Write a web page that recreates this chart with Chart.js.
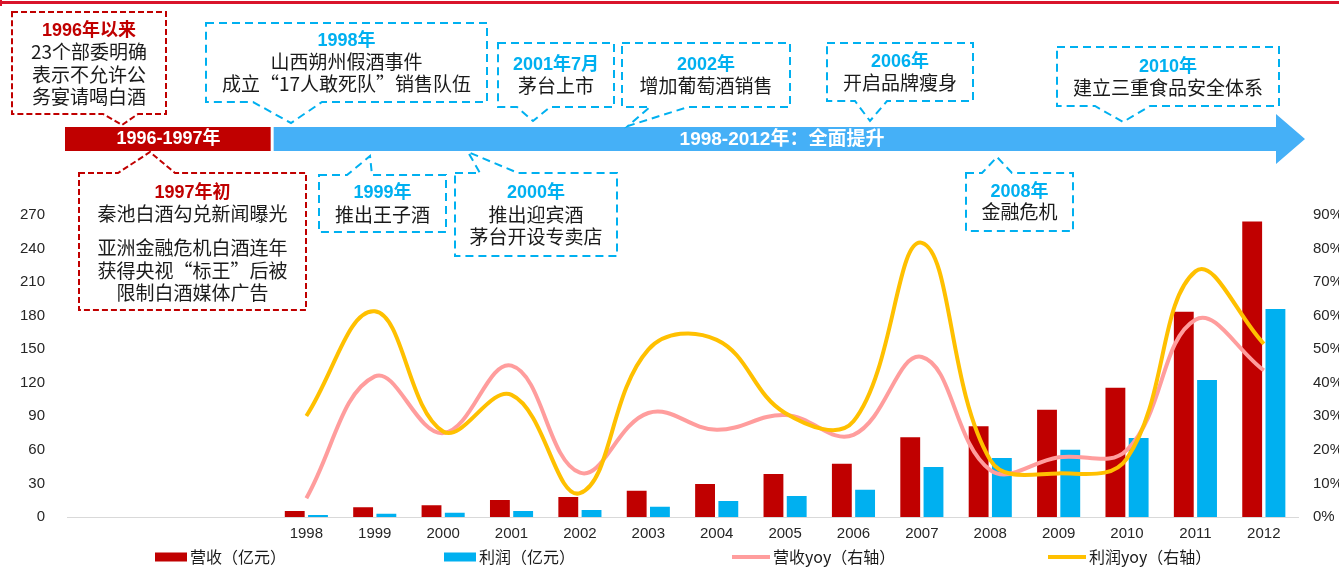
<!DOCTYPE html>
<html>
<head>
<meta charset="utf-8">
<script src="https://cdn.jsdelivr.net/npm/chart.js@4.4.1/dist/chart.umd.min.js"></script>
<style>
  html, body { margin: 0; padding: 0; background: #fff; }
  #wrap { width: 1339px; height: 569px; position: relative; }
</style>
</head>
<body>
<div id="wrap"><canvas id="chart" width="1339" height="569"></canvas></div>
<script>
// 数据（前三个空类目对应 1996-1997 阶段）
const years = ['', '', '', '1998', '1999', '2000', '2001', '2002', '2003', '2004', '2005', '2006', '2007', '2008', '2009', '2010', '2011', '2012'];
const revenue = [null, null, null, 6.3, 9.6, 11.4, 16.1, 18.8, 24.4, 30.4, 39.4, 48.6, 72.2, 82.1, 96.7, 116.4, 184.4, 265];
const profit = [null, null, null, 2.7, 3.8, 4.7, 6.3, 7.2, 10.1, 15.2, 19.7, 25.3, 45.7, 53.7, 61.1, 71.6, 123.3, 186.8];
const revenueYoy = [null, null, null, 5.6, 41.9, 25, 45.1, 13.2, 31, 26, 30.4, 24.5, 47.7, 14, 17.8, 20, 58.8, 43.7];
const profitYoy = [null, null, null, 30.1, 61.3, 25.5, 36.4, 7.1, 49.9, 52.8, 31, 28.5, 81.7, 17, 13, 17.5, 73.2, 51.6];
const leftMax = 270, leftStep = 30;
const rightMax = 90, rightStep = 10;

const seriesNames = ['营收（亿元）', '利润（亿元）', '营收yoy（右轴）', '利润yoy（右轴）'];
const stageNames = ['1996-1997年', '1998-2012年：全面提升'];

// 注释框文字
const noteTitles = ['1996年以来', '1997年初', '1998年', '1999年', '2000年', '2001年7月', '2002年', '2006年', '2010年', '2008年'];
const noteLines = [
  ['23个部委明确', '表示不允许公', '务宴请喝白酒'],
  ['秦池白酒勾兑新闻曝光', '', '亚洲金融危机白酒连年', '获得央视“标王”后被', '限制白酒媒体广告'],
  ['山西朔州假酒事件', '成立“17人敢死队”销售队伍'],
  ['推出王子酒'],
  ['推出迎宾酒', '茅台开设专卖店'],
  ['茅台上市'],
  ['增加葡萄酒销售'],
  ['开启品牌瘦身'],
  ['建立三重食品安全体系'],
  ['金融危机']
];

const RED = '#c00000', BLUE = '#00b0f0', PINK = '#ff9d9d', ORANGE = '#ffc000';
const CJK = "'Noto Sans CJK SC', sans-serif";

// 注释框布局：矩形 [左, 上, 右, 下]，指针 [基点1x, 基点2x, 顶点x, 顶点y]，颜色，首行 y，各行 y
const noteLayout = [
  { box: [12, 12, 166, 114], ptr: [103, 138, 122, 125], color: RED, y0: 31, ys: [52, 75, 97] },
  { box: [79, 173, 306, 310], ptr: [118, 175, 150, 152], color: RED, y0: 193, ys: [214, 231, 248, 271, 293] },
  { box: [206, 23, 487, 102], ptr: [253, 322, 291, 123], color: BLUE, y0: 41, ys: [62, 84] },
  { box: [319, 175, 446, 232], ptr: [347, 372, 370, 156], color: BLUE, y0: 193, ys: [215] },
  { box: [455, 173, 617, 256], ptr: [480, 518, 468, 152], color: BLUE, y0: 193, ys: [215, 237] },
  { box: [498, 43, 614, 107], ptr: [517, 550, 533, 121], color: BLUE, y0: 65, ys: [86] },
  { box: [622, 43, 790, 107], ptr: [650, 688, 628, 126], color: BLUE, y0: 65, ys: [86] },
  { box: [827, 43, 973, 101], ptr: [855, 887, 870, 121], color: BLUE, y0: 62, ys: [83] },
  { box: [1057, 47, 1279, 106], ptr: [1095, 1150, 1123, 122], color: BLUE, y0: 67, ys: [88] },
  { box: [966, 173, 1073, 231], ptr: [982, 1012, 997, 157], color: BLUE, y0: 192, ys: [212] }
];

function drawNote(ctx, i) {
  const L = noteLayout[i];
  const [l, t, r, b] = L.box;
  const [p1, p2, ax, ay] = L.ptr;
  ctx.save();
  ctx.beginPath();
  if (ay > b) { // 指针向下
    ctx.moveTo(l, t); ctx.lineTo(r, t); ctx.lineTo(r, b);
    ctx.lineTo(p2, b); ctx.lineTo(ax, ay); ctx.lineTo(p1, b);
    ctx.lineTo(l, b); ctx.closePath();
  } else { // 指针向上
    ctx.moveTo(l, t); ctx.lineTo(p1, t); ctx.lineTo(ax, ay); ctx.lineTo(p2, t);
    ctx.lineTo(r, t); ctx.lineTo(r, b); ctx.lineTo(l, b); ctx.closePath();
  }
  ctx.fillStyle = '#fff';
  ctx.fill();
  ctx.setLineDash(L.color === RED ? [6, 3] : [8, 5]);
  ctx.lineWidth = 2;
  ctx.strokeStyle = L.color;
  ctx.stroke();
  ctx.setLineDash([]);
  const cx = (l + r) / 2;
  ctx.textAlign = 'center';
  ctx.textBaseline = 'middle';
  ctx.fillStyle = L.color;
  ctx.font = "bold 18px 'Liberation Sans', " + CJK;
  ctx.fillText(noteTitles[i], cx, L.y0);
  ctx.fillStyle = '#1a1a1a';
  ctx.font = '19px ' + CJK;
  noteLines[i].forEach((s, k) => { if (s) ctx.fillText(s, cx, L.ys[k]); });
  ctx.restore();
}

// 时间轴横幅 + 注释 + 图例
const timelinePlugin = {
  id: 'timeline',
  beforeDraw(chart) {
    const ctx = chart.ctx;
    ctx.save();
    ctx.fillStyle = '#fff';
    ctx.fillRect(0, 0, chart.width, chart.height);
    ctx.fillStyle = '#d9142b';
    ctx.fillRect(0, 1, chart.width, 3);
    ctx.fillRect(0, 0, 2, 6);
    ctx.restore();
  },
  afterDraw(chart) {
    const ctx = chart.ctx;
    const xs = chart.scales.x;
    const area = chart.chartArea;
    const split = (xs.getPixelForValue(2) + xs.getPixelForValue(3)) / 2;
    const top = 127, bot = 151;
    ctx.save();
    // 红色阶段
    ctx.fillStyle = RED;
    ctx.fillRect(area.left - 2, top, split - 1.5 - (area.left - 2), bot - top);
    // 蓝色箭头
    const headBase = area.right - 22, tip = area.right + 7;
    ctx.fillStyle = '#45b0f7';
    ctx.beginPath();
    ctx.moveTo(split + 1.5, top);
    ctx.lineTo(headBase, top);
    ctx.lineTo(headBase, 114);
    ctx.lineTo(tip, (top + bot) / 2);
    ctx.lineTo(headBase, 164);
    ctx.lineTo(headBase, bot);
    ctx.lineTo(split + 1.5, bot);
    ctx.closePath();
    ctx.fill();
    ctx.fillStyle = '#fff';
    ctx.textAlign = 'center';
    ctx.textBaseline = 'middle';
    ctx.font = "bold 18px 'Liberation Sans', " + CJK;
    ctx.fillText(stageNames[0], (area.left - 2 + split) / 2, 139);
    ctx.font = "bold 19px 'Liberation Sans', " + CJK;
    ctx.fillText(stageNames[1], 782, 140);
    ctx.restore();

    noteLayout.forEach((_, i) => drawNote(ctx, i));

    // 图例
    const legendX = [155, 444, 732, 1048];
    const ly = 557;
    const colors = [RED, BLUE, PINK, ORANGE];
    ctx.save();
    ctx.font = '16px ' + CJK;
    ctx.textBaseline = 'middle';
    ctx.textAlign = 'left';
    seriesNames.forEach((name, i) => {
      const x = legendX[i];
      let w;
      if (i < 2) {
        w = 32;
        ctx.fillStyle = colors[i];
        ctx.fillRect(x, ly - 4.5, w, 9);
      } else {
        w = 38;
        ctx.strokeStyle = colors[i];
        ctx.lineWidth = 4;
        ctx.beginPath();
        ctx.moveTo(x, ly);
        ctx.lineTo(x + w, ly);
        ctx.stroke();
      }
      ctx.fillStyle = '#1a1a1a';
      ctx.fillText(name, x + w + 3, ly);
    });
    ctx.restore();
  }
};

Chart.defaults.font.family = "'Liberation Sans', " + CJK;
Chart.defaults.color = '#262626';

new Chart(document.getElementById('chart'), {
  data: {
    labels: years,
    datasets: [
      { type: 'line', label: seriesNames[3], data: profitYoy, yAxisID: 'y1', borderColor: ORANGE, borderWidth: 4, pointRadius: 0, tension: 0.4, order: 0 },
      { type: 'line', label: seriesNames[2], data: revenueYoy, yAxisID: 'y1', borderColor: PINK, borderWidth: 4, pointRadius: 0, tension: 0.4, order: 1 },
      { type: 'bar', label: seriesNames[0], data: revenue, yAxisID: 'y', backgroundColor: RED, borderColor: 'rgba(255,255,255,0.7)', borderWidth: 1, order: 2 },
      { type: 'bar', label: seriesNames[1], data: profit, yAxisID: 'y', backgroundColor: BLUE, borderColor: 'rgba(255,255,255,0.7)', borderWidth: 1, order: 3 }
    ]
  },
  options: {
    responsive: false,
    animation: false,
    layout: { padding: { top: 215, bottom: 24, left: 0, right: 0 } },
    datasets: { bar: { categoryPercentage: 0.68, barPercentage: 0.94 } },
    plugins: { legend: { display: false }, tooltip: { enabled: false } },
    scales: {
      x: {
        grid: { display: false, drawTicks: false },
        border: { display: true, color: '#d9d9d9', width: 1 },
        ticks: { font: { size: 15 }, padding: 8, color: '#262626', autoSkip: false, maxRotation: 0 },
        afterFit(s) { s.height = 28; }
      },
      y: {
        position: 'left', min: 0, max: leftMax,
        grid: { display: false, drawTicks: false },
        border: { display: false },
        ticks: { stepSize: leftStep, font: { size: 15 }, padding: 22, color: '#262626' },
        afterFit(s) { s.width = 67; }
      },
      y1: {
        position: 'right', min: 0, max: rightMax,
        grid: { display: false, drawTicks: false },
        border: { display: false },
        ticks: { stepSize: rightStep, font: { size: 15 }, padding: 15, color: '#262626', callback: v => v + '%' },
        afterFit(s) { s.width = 41; }
      }
    }
  },
  plugins: [timelinePlugin]
});
</script>
</body>
</html>
